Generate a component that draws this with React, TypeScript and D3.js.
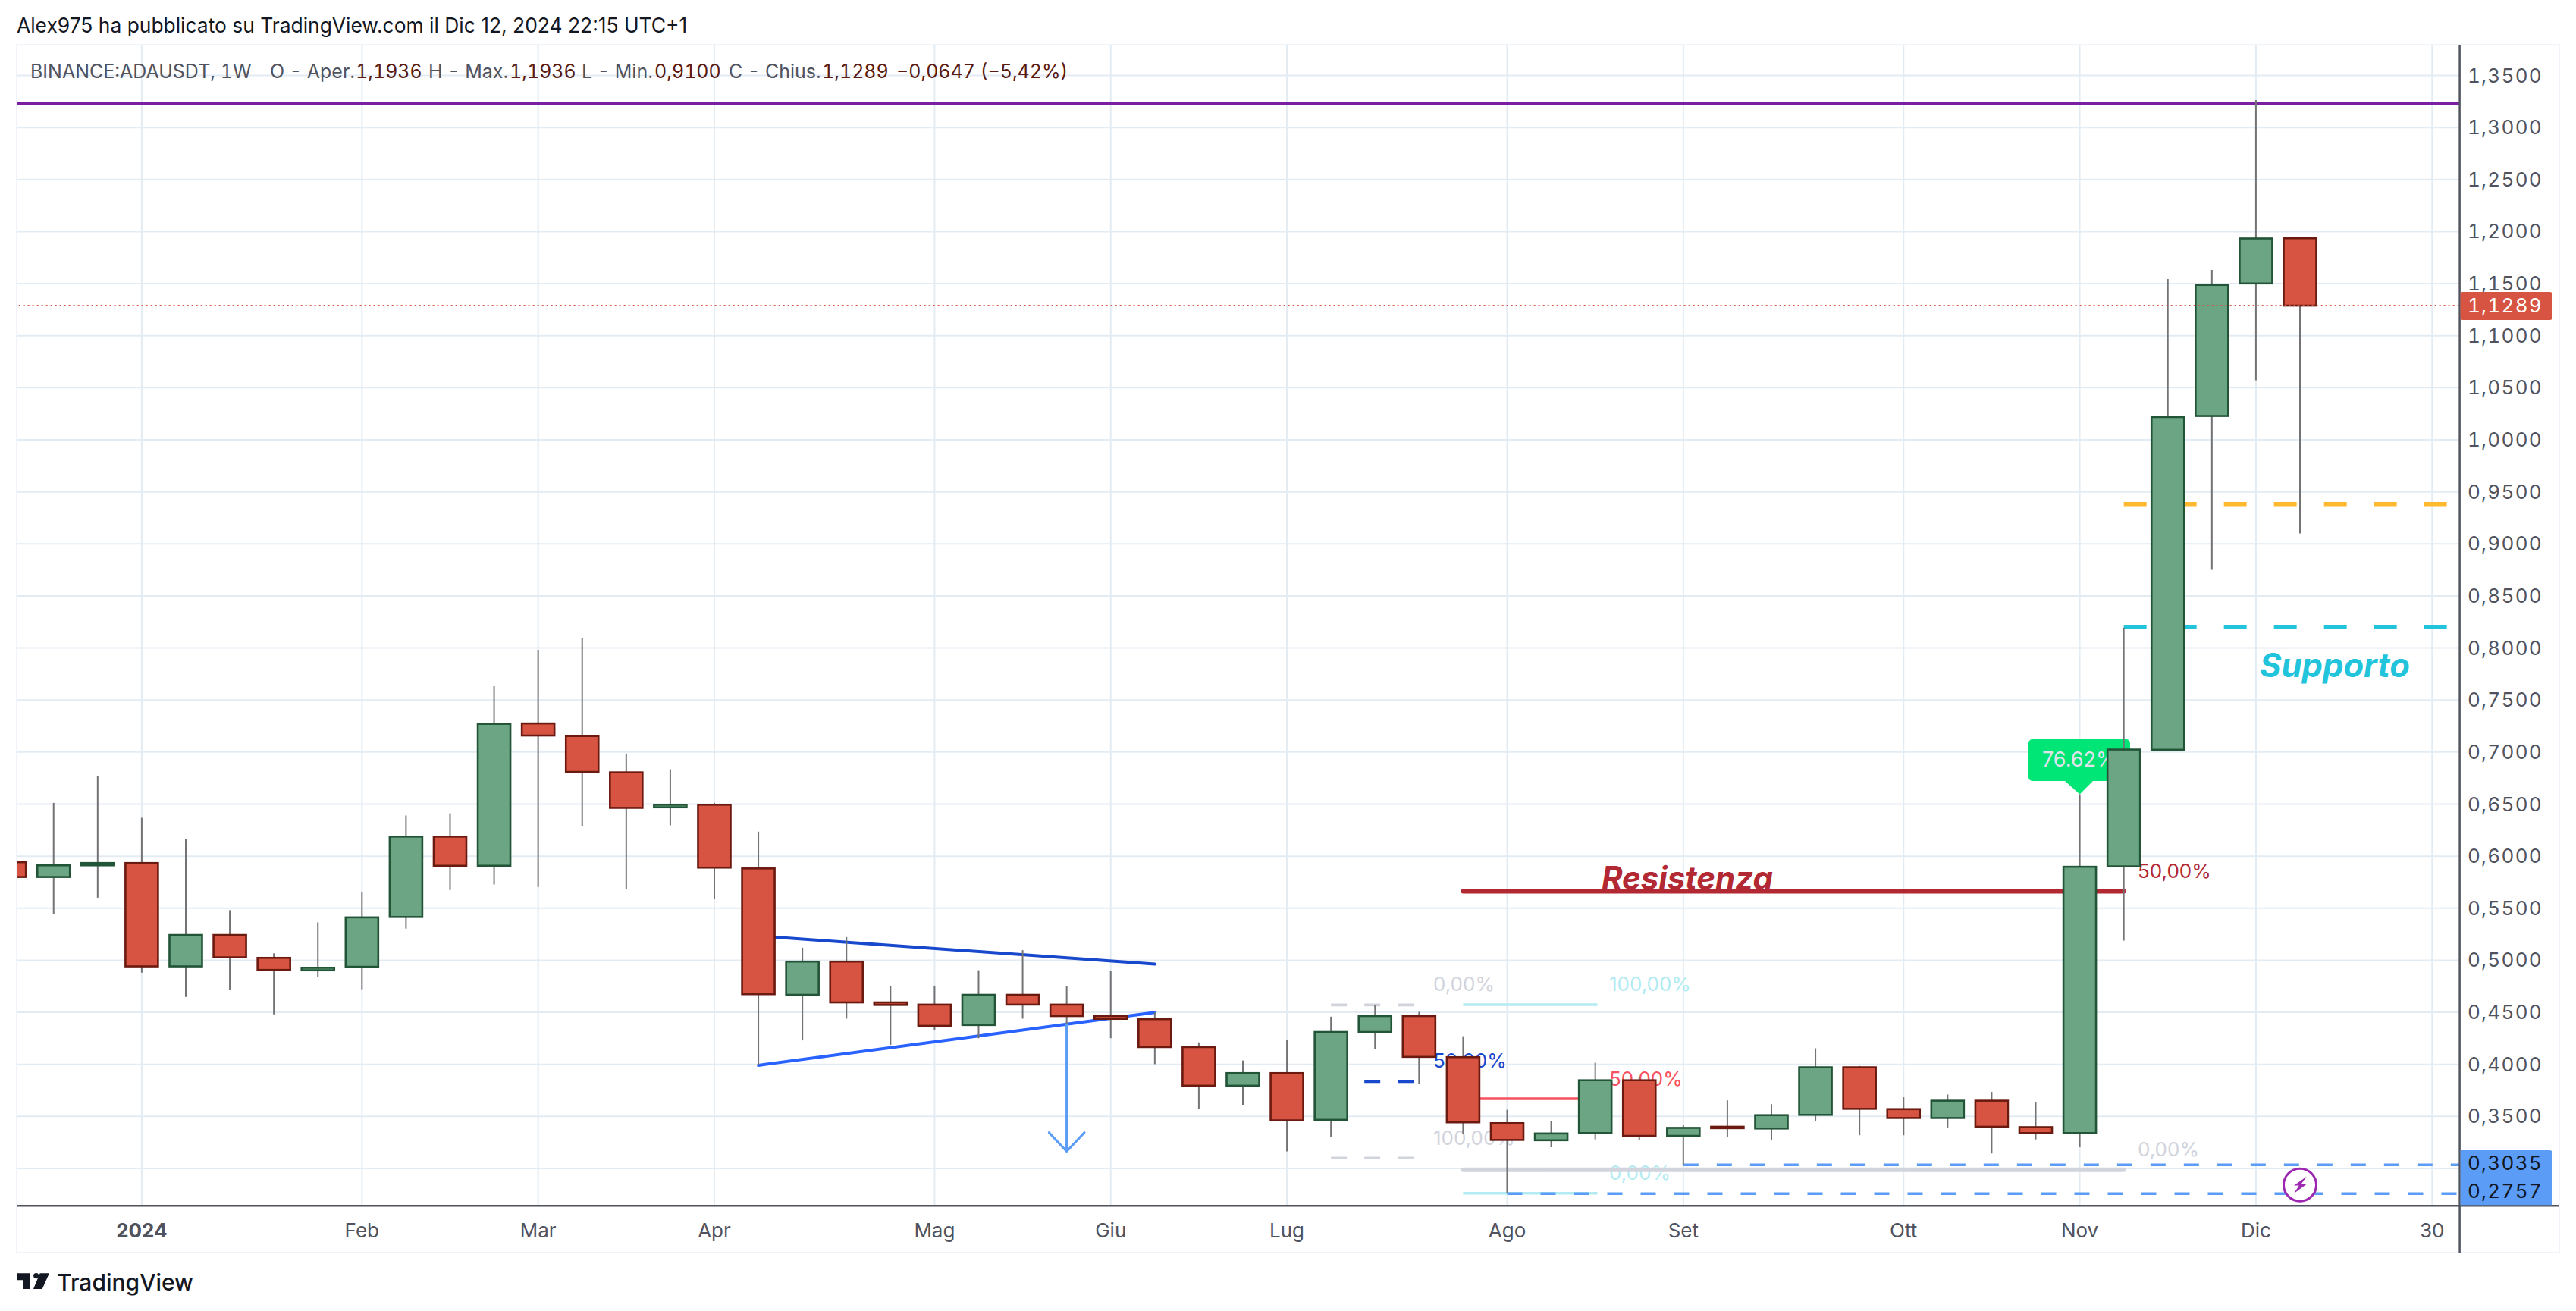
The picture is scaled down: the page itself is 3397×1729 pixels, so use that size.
import React from "react";
import * as d3 from "d3";

const WIDTH = 3397;
const HEIGHT = 1729;

// weekly candles, index 0 is the week of Jan 1 2024
const firstWeek = -3;
const opens = [0.5942, 0.58, 0.5912, 0.5934, 0.4941, 0.5243, 0.5023, 0.4903, 0.4937, 0.5416, 0.6188, 0.5908, 0.7275, 0.7154, 0.6805, 0.6469, 0.6494, 0.5882, 0.4668, 0.4987, 0.4595, 0.4574, 0.4378, 0.4668, 0.4574, 0.4464, 0.4434, 0.4166, 0.3795, 0.3916, 0.3467, 0.4311, 0.4464, 0.4069, 0.3435, 0.3271, 0.334, 0.3847, 0.3313, 0.3401, 0.3384, 0.3515, 0.3972, 0.357, 0.3485, 0.3651, 0.3397, 0.334, 0.5902, 0.7022, 1.0229, 1.1502, 1.1936];
const closes = [0.58, 0.5912, 0.5934, 0.4941, 0.5243, 0.5028, 0.4907, 0.4928, 0.5412, 0.6188, 0.5908, 0.7271, 0.7159, 0.6809, 0.6464, 0.6494, 0.589, 0.4674, 0.4987, 0.4595, 0.4571, 0.437, 0.4668, 0.4574, 0.4464, 0.4437, 0.4166, 0.3795, 0.3916, 0.3462, 0.4311, 0.4464, 0.4072, 0.3443, 0.3274, 0.3336, 0.3847, 0.3313, 0.339, 0.3387, 0.3512, 0.3972, 0.3573, 0.3485, 0.3651, 0.3401, 0.334, 0.5898, 0.7024, 1.0219, 1.1488, 1.1934, 1.1289];
const highs = [0.62, 0.6512, 0.6766, 0.6369, 0.6167, 0.5481, 0.5066, 0.5364, 0.5653, 0.6391, 0.6412, 0.7633, 0.7983, 0.8099, 0.6986, 0.6835, 0.6512, 0.6236, 0.5121, 0.5223, 0.4756, 0.4756, 0.4904, 0.5097, 0.4751, 0.4896, 0.4498, 0.4211, 0.4037, 0.4235, 0.4458, 0.4566, 0.4504, 0.427, 0.3564, 0.3457, 0.4016, 0.3874, 0.3414, 0.3654, 0.3617, 0.4154, 0.3985, 0.3684, 0.3711, 0.3735, 0.3641, 0.6595, 0.8195, 1.1544, 1.1632, 1.3263, 1.1936];
const lows = [0.57, 0.5442, 0.5601, 0.4881, 0.4648, 0.4717, 0.448, 0.4838, 0.4721, 0.5304, 0.5675, 0.5727, 0.5705, 0.6287, 0.5683, 0.6296, 0.5588, 0.3992, 0.423, 0.4439, 0.4187, 0.4332, 0.4251, 0.4439, 0.4391, 0.4251, 0.4002, 0.3572, 0.3612, 0.3164, 0.3304, 0.4149, 0.3814, 0.3331, 0.2761, 0.3204, 0.3279, 0.3269, 0.3035, 0.3306, 0.3269, 0.3458, 0.3319, 0.3319, 0.3394, 0.3144, 0.3279, 0.3204, 0.5189, 0.7008, 0.8751, 1.0572, 0.91];

const priceTicks = [1.35, 1.3, 1.25, 1.2, 1.15, 1.1, 1.05, 1.0, 0.95, 0.9, 0.85, 0.8, 0.75, 0.7, 0.65, 0.6, 0.55, 0.5, 0.45, 0.4, 0.35, 0.3];
const timeTicks = [0, 5, 9, 13, 18, 22, 26, 31, 35, 40, 44, 48, 52];
const timeLabels = ["2024", "Feb", "Mar", "Apr", "Mag", "Giu", "Lug", "Ago", "Set", "Ott", "Nov", "Dic", "30"];

const lastPrice = 1.1289;
const topLevel = 1.323;
const orangeLevel = 0.9383;
const supportLevel = 0.8202;
const resistanceLevel = 0.5662;
const dashedLowA = 0.3035;
const dashedLowB = 0.2757;

const INK = "#50535e";
const GRID = "#e3ecf3";
const FRAME = "#f0f3fa";
const GREEN = "#6ba583";
const GREEN_EDGE = "#225437";
const RED = "#d75442";
const RED_EDGE = "#6b1a10";
const WICK = "#737375";
const PALE = "#d1d4dc";
const PALE_CYAN = "#b2ebf2";
const PINK = "#f7525f";
const DARK_RED = "#b22833";
const BLUE = "#5b9cf6";
const ROYAL = "#1848cc";
const FONT = "Inter, 'Noto Sans', sans-serif";

const left = 22;
const right = 3243.6;
const outerRight = 3375;
const top = 59;
const bottom = 1590.3;
const frameBottom = 1652;

const x = d3.scaleLinear().domain([0, 49]).range([186.9, 3033]);
const y = d3.scaleLinear().domain([1.35, 0.3]).range([99.5, 1541]);

const locale = d3.formatLocale({ decimal: ",", thousands: ".", grouping: [3], currency: ["", ""] });
const price = locale.format(".4f");

const line = d3.line<[number, number]>().x((d) => x(d[0])).y((d) => y(d[1]));

const tabular = { fontVariantNumeric: "tabular-nums", fontFeatureSettings: "'tnum' 1" } as React.CSSProperties;

function Level(props: { from: number; to?: number; value: number; color: string; w: number; dash?: string; cap?: "round" | "butt" }) {
    const x1 = x(props.from);
    const x2 = props.to === undefined ? right : x(props.to);
    return (
        <line x1={x1} x2={x2} y1={y(props.value)} y2={y(props.value)} stroke={props.color} strokeWidth={props.w}
            strokeDasharray={props.dash} strokeLinecap={props.cap ?? "butt"} />
    );
}

function Pct(props: { px: number; py: number; color: string; children: string }) {
    return <text x={props.px} y={props.py} fill={props.color} fontFamily={FONT} fontSize={26}>{props.children}</text>;
}

export default function App() {
    return (
        <svg width={WIDTH} height={HEIGHT} style={{ position: "absolute", left: 0, top: 0, background: "#fff" }}>
            <defs>
                <clipPath id="pane"><rect x={left} y={top} width={right - left} height={bottom - top} /></clipPath>
            </defs>

            <text x={22} y={43} fill="#131722" fontFamily={FONT} fontSize={26.4}>Alex975 ha pubblicato su TradingView.com il Dic 12, 2024 22:15 UTC+1</text>

            <rect x={left} y={top} width={outerRight - left} height={frameBottom - top} fill="none" stroke={FRAME} strokeWidth={2} />

            {priceTicks.map((t) => (
                <line key={t} x1={left} x2={right} y1={y(t)} y2={y(t)} stroke={GRID} strokeWidth={2} />
            ))}
            {timeTicks.map((t) => (
                <line key={t} x1={x(t)} x2={x(t)} y1={top} y2={bottom} stroke={GRID} strokeWidth={2} />
            ))}

            <g clipPath="url(#pane)">
                <Level from={-3} value={topLevel} color="#7b1fa2" w={4} />

                {/* triangle and arrow */}
                <path d={line([[14, 0.5234], [23, 0.4963]]) ?? ""} stroke={ROYAL} strokeWidth={4} fill="none" strokeLinecap="round" />
                <path d={line([[14, 0.3991], [23, 0.4498]]) ?? ""} stroke="#2962ff" strokeWidth={4} fill="none" strokeLinecap="round" />
                <path d={line([[21, 0.4404], [21, 0.3164]]) ?? ""} stroke={BLUE} strokeWidth={3.2} fill="none" />
                <path d={line([[20.6, 0.3344], [21, 0.3164], [21.4, 0.3344]]) ?? ""} stroke={BLUE} strokeWidth={3.2} fill="none" strokeLinecap="round" />

                {/* left fib */}
                <Level from={27} to={29} value={0.4571} color={PALE} w={3.7} dash="21 23" />
                <Level from={27} to={29} value={0.3835} color={ROYAL} w={3.7} dash="21 23" />
                <Level from={27} to={29} value={0.31} color={PALE} w={3.7} dash="21 23" />
                <Pct px={1890} py={1307} color={PALE}>0,00%</Pct>
                <Pct px={1890} py={1408} color={ROYAL}>50,00%</Pct>
                <Pct px={1890} py={1510} color={PALE}>100,00%</Pct>

                {/* middle fib */}
                <Level from={30} to={33.05} value={0.4573} color={PALE_CYAN} w={3.5} />
                <Level from={30} to={33.05} value={0.3671} color={PINK} w={3.5} />
                <Level from={30} to={33.05} value={0.2762} color={PALE_CYAN} w={3.5} />
                <Pct px={2122} py={1307} color={PALE_CYAN}>100,00%</Pct>
                <Pct px={2122} py={1432} color={PINK}>50,00%</Pct>
                <Pct px={2122} py={1556} color={PALE_CYAN}>0,00%</Pct>

                {/* right fib, the resistance line is its middle */}
                <Level from={30} to={45} value={0.2988} color={PALE} w={6} cap="round" />
                <Level from={30} to={45} value={resistanceLevel} color={DARK_RED} w={6} cap="round" />
                <Pct px={2819} py={1158} color={DARK_RED}>50,00%</Pct>
                <Pct px={2819} py={1525} color={PALE}>0,00%</Pct>
                <text x={2112} y={1173} fill={DARK_RED} fontFamily={FONT} fontSize={42} fontWeight={700} fontStyle="italic">Resistenza</text>

                <Level from={35} value={dashedLowA} color={BLUE} w={3.5} dash="20 24" />
                <Level from={31} value={dashedLowB} color={BLUE} w={3.5} dash="20 24" />

                <Level from={45} to={52.35} value={orangeLevel} color="#ffb92e" w={5.5} dash="30 36" />
                <Level from={45} to={52.35} value={supportLevel} color="#22c4dc" w={5.5} dash="30 36" />
                <text x={2980} y={893} fill="#22c4dc" fontFamily={FONT} fontSize={43.5} fontWeight={700} fontStyle="italic">Supporto</text>

                {/* pct label sits under the candles */}
                <path d={`M2680 ${975}H2804a5 5 0 0 1 5 5V1025a5 5 0 0 1 -5 5H2760L${x(44)} ${y(highs[47])}L2723 1030H2680a5 5 0 0 1 -5 -5V980a5 5 0 0 1 5 -5Z`} fill="#00e676" />
                <text x={2693} y={1011} fill="#e0e3eb" fontFamily={FONT} fontSize={27}>76.62%</text>

                {opens.map((o, i) => {
                    const c = closes[i];
                    const cx = x(firstWeek + i);
                    const up = c >= o;
                    const yTop = y(Math.max(o, c));
                    const yBot = y(Math.min(o, c));
                    return (
                        <g key={i}>
                            <line x1={cx} x2={cx} y1={y(highs[i])} y2={y(lows[i])} stroke={WICK} strokeWidth={2} />
                            <rect x={cx - 21.5} y={yTop} width={43} height={Math.max(yBot - yTop, 1)}
                                fill={up ? GREEN : RED} stroke={up ? GREEN_EDGE : RED_EDGE} strokeWidth={2.6} />
                        </g>
                    );
                })}

                <Level from={-3} value={lastPrice} color={RED} w={2} dash="2 4" />

                <circle cx={x(49)} cy={1562.7} r={21.5} fill="#fff" stroke="#9c27b0" strokeWidth={3} />
                <path transform={`translate(${x(49)},1562.7)`} d="M8.7 -11L-8 0.7H-1.3L-8 11.3L9.7 -1.7H2Z" fill="#9c27b0" />
            </g>

            <line x1={left} x2={outerRight} y1={bottom} y2={bottom} stroke={INK} strokeWidth={2.5} />
            <line x1={right} x2={right} y1={top} y2={frameBottom} stroke={INK} strokeWidth={2.5} />

            {/* the 0,3000 label is covered by the blue price tags, so it is left out */}
            <g fontFamily={FONT} fontSize={26} fill={INK} textAnchor="end" letterSpacing={1.3} style={tabular}>
                {priceTicks.filter((t) => t > 0.3).map((t) => (
                    <text key={t} x={3353} y={y(t) + 9}>{price(t)}</text>
                ))}
            </g>
            <rect x={right + 1} y={y(lastPrice) - 18} width={121} height={37} rx={3} fill={RED} />
            <text x={3353} y={y(lastPrice) + 9} fontFamily={FONT} fontSize={26} fill="#fff" textAnchor="end" letterSpacing={1.3} style={tabular}>{price(lastPrice)}</text>
            <path d={`M${right + 1} 1517H3362a4 4 0 0 1 4 4V${bottom - 1}H${right + 1}Z`} fill={BLUE} />
            <g fontFamily={FONT} fontSize={26} fill="#131722" textAnchor="end" letterSpacing={1.3} style={tabular}>
                <text x={3353} y={1543}>{price(dashedLowA)}</text>
                <text x={3353} y={1580}>{price(dashedLowB)}</text>
            </g>

            <g fontFamily={FONT} fontSize={26} fill={INK} textAnchor="middle">
                {timeTicks.map((t, i) => (
                    <text key={t} x={x(t)} y={1632} fontWeight={i === 0 ? 700 : 400}>{timeLabels[i]}</text>
                ))}
            </g>

            {/* OHLC legend */}
            <g fontFamily={FONT} fontSize={25} fill={INK} style={tabular}>
                <text x={40} y={103}>BINANCE:ADAUSDT, 1W</text>
                <text x={356} y={103}>O - Aper.</text>
                <text x={469} y={103} fill="#5a1a10">1,1936</text>
                <text x={565} y={103}>H - Max.</text>
                <text x={672} y={103} fill="#5a1a10">1,1936</text>
                <text x={767} y={103}>L - Min.</text>
                <text x={863} y={103} fill="#5a1a10">0,9100</text>
                <text x={961} y={103}>C - Chius.</text>
                <text x={1084} y={103} fill="#5a1a10">1,1289</text>
                <text x={1182} y={103} fill="#5a1a10">−0,0647 (−5,42%)</text>
            </g>

            {/* TradingView mark */}
            <path d="M22.3 1679.3H40V1700H30V1688.3H22.3Z" fill="#131722" />
            <circle cx={47.7} cy={1682.6} r={3.6} fill="#131722" />
            <path d="M52.7 1679.3H65L55.7 1700H44Z" fill="#131722" />
            <text x={75} y={1701.7} fontFamily={FONT} fontSize={30} fontWeight={500} fill="#131722">TradingView</text>
        </svg>
    );
}
